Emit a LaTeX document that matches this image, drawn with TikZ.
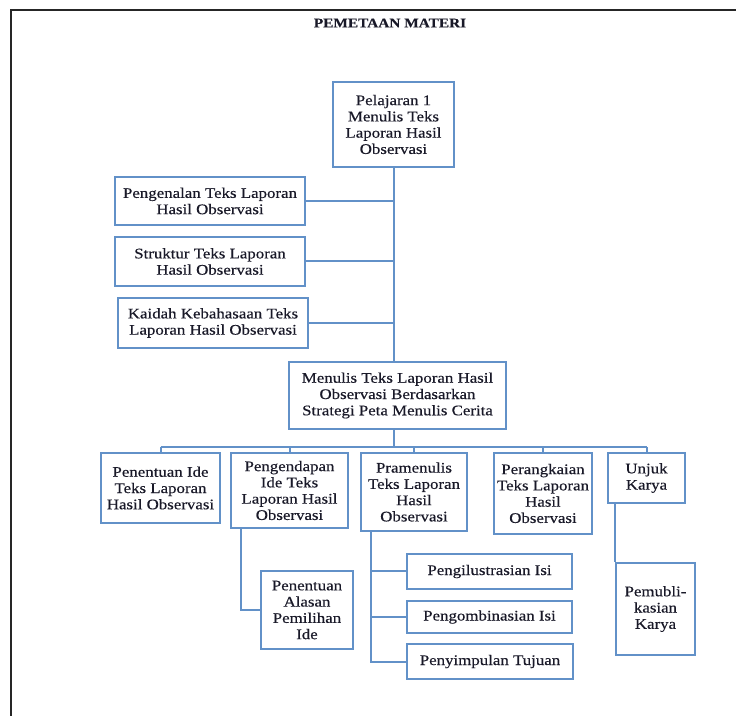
\documentclass[tikz,border=0pt]{standalone}
\usepackage{fontspec}
\setmainfont[FakeStretch=1.15, FakeBold=0.35]{Liberation Serif}
\definecolor{boxblue}{RGB}{98,145,200}
\definecolor{ink}{RGB}{25,25,40}
\tikzset{
  box/.style={draw=boxblue, line width=1.5pt, fill=white, inner sep=0pt, align=center,
    text=ink, font=\fontsize{11}{12.2}\selectfont},
  link/.style={draw=boxblue, line width=1.5pt},
  frame/.style={draw=black!85, line width=1.3pt}
}
\newcommand\boxnode[6]{\node[box, minimum width={(#4-#2)*0.75pt}, minimum height={(#5-#3)*0.75pt}] (#1) at ({(#2+#4)/2},{(#3+#5)/2}) {#6};}
\begin{document}
\begin{tikzpicture}[x=0.75pt,y=-0.75pt]
\useasboundingbox (0,0) rectangle (736,716);
\coordinate (fa) at (11,716);
\coordinate (fb) at (11,10);
\coordinate (fc) at (736,10);
\draw[frame] (fa) -- (fb) -- (fc);
\node[font=\bfseries\fontsize{10}{12}\selectfont, text=ink] (title) at (390,23) {PEMETAAN MATERI};

\boxnode{top}{333}{82}{454}{167}{Pelajaran 1\\Menulis Teks\\Laporan Hasil\\Observasi}
\boxnode{s1}{115}{177}{305}{225}{Pengenalan Teks Laporan\\Hasil Observasi}
\boxnode{s2}{115}{237}{305}{286}{Struktur Teks Laporan\\Hasil Observasi}
\boxnode{s3}{118}{298}{308}{348}{Kaidah Kebahasaan Teks\\Laporan Hasil Observasi}
\boxnode{main}{289}{362}{506}{429}{Menulis Teks Laporan Hasil\\Observasi Berdasarkan\\Strategi Peta Menulis Cerita}

\boxnode{b1}{101}{453}{220}{523}{Penentuan Ide\\Teks Laporan\\Hasil Observasi}
\boxnode{b2}{231}{453}{348}{528}{Pengendapan\\Ide Teks\\Laporan Hasil\\Observasi}
\boxnode{b3}{361}{453}{467}{531}{Pramenulis\\Teks Laporan\\Hasil\\Observasi}
\boxnode{b4}{494}{453}{592}{534}{Perangkaian\\Teks Laporan\\Hasil\\Observasi}
\boxnode{b5}{608}{453}{685}{503}{Unjuk\\Karya}

\boxnode{alasan}{261}{571}{353}{649}{Penentuan\\Alasan\\Pemilihan\\Ide}
\boxnode{c1}{407}{554}{572}{589}{Pengilustrasian Isi}
\boxnode{c2}{407}{601}{572}{633}{Pengombinasian Isi}
\boxnode{c3}{407}{644}{573}{679}{Penyimpulan Tujuan}
\boxnode{pub}{616}{563}{695}{655}{Pemubli-\\kasian\\Karya}

% trunk
\draw[link] (top.south) -- (top.south |- main.north);
\draw[link] (s1.east) -- (s1.east -| top.south);
\draw[link] (s2.east) -- (s2.east -| top.south);
\draw[link] (s3.east) -- (s3.east -| top.south);

% bus
\coordinate (busy) at (0,447);
\draw[link] (top.south |- main.south) -- (top.south |- busy);
\draw[link] (b1.north |- busy) -- (b5.north |- busy);
\foreach \n in {b1,b2,b3,b4,b5} \draw[link] (\n.north) -- (\n.north |- busy);

% sub branches
\draw[link] ([xshift=8.25pt]b2.south west) |- (alasan.west);
\draw[link] ([xshift=8.25pt]b3.south west) |- (c3.west);
\draw[link] ([xshift=8.25pt]b3.south west) |- (c1.west);
\draw[link] ([xshift=8.25pt]b3.south west) |- (c2.west);
\draw[link] ([xshift=6pt]b5.south west) -- (pub.north west);
\end{tikzpicture}
\end{document}
